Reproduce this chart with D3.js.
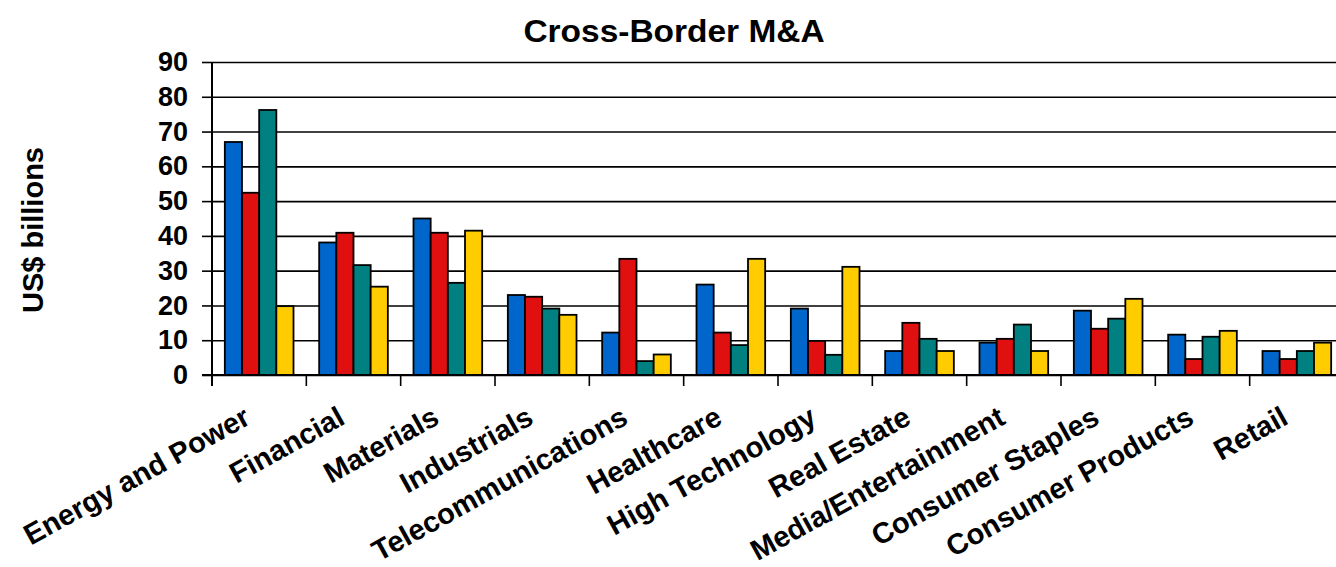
<!DOCTYPE html>
<html>
<head>
<meta charset="utf-8">
<script src="https://cdn.jsdelivr.net/npm/d3@7"></script>
<style>
	body { margin: 0; background: #fff; }
	svg { display: block; font-family: "Liberation Sans", Arial, sans-serif; }
</style>
</head>
<body>
<script>
//chart data
var categories = ["Energy and Power", "Financial", "Materials", "Industrials", "Telecommunications",
	"Healthcare", "High Technology", "Real Estate", "Media/Entertainment", "Consumer Staples",
	"Consumer Products", "Retail"];
var seriesNames = ["Series 1", "Series 2", "Series 3", "Series 4"];
var series1 = [67, 38.1, 45, 23, 12.2, 26, 19.1, 6.9, 9.3, 18.5, 11.6, 6.9];
var series2 = [52.4, 40.9, 40.9, 22.5, 33.4, 12.2, 9.8, 15, 10.4, 13.3, 4.6, 4.6];
var series3 = [76.2, 31.6, 26.5, 19.1, 4.0, 8.6, 5.8, 10.4, 14.5, 16.2, 11, 6.9];
var series4 = [19.8, 25.4, 41.5, 17.3, 5.9, 33.4, 31.1, 6.9, 6.9, 21.9, 12.7, 9.3];
var seriesColors = ["#0066cc", "#e01010", "#008080", "#ffcc00"];
var yTicks = [0, 10, 20, 30, 40, 50, 60, 70, 80, 90];

window.onload = setChart();

function setChart(){
	var width = 1336,
		height = 567;

	//svg container
	var svg = d3.select("body")
		.append("svg")
		.attr("width", width)
		.attr("height", height);

	//plot area runs past the right edge, as in the original
	var left = 212, right = 1344, top = 62, bottom = 375;

	var x0 = d3.scaleBand()
		.domain(categories)
		.range([left, right])
		.padding(0);

	var bw = x0.bandwidth();
	var x1 = d3.scaleBand()
		.domain(seriesNames)
		.range([bw * 0.136, bw * 0.864])
		.padding(0);

	var y = d3.scaleLinear()
		.domain([0, 90])
		.range([bottom, top]);

	var color = d3.scaleOrdinal()
		.domain(seriesNames)
		.range(seriesColors);

	//gridlines
	svg.append("g")
		.attr("class", "grid")
		.attr("transform", "translate(" + left + ",0)")
		.call(d3.axisLeft(y).tickValues(yTicks).tickSize(-(right - left)).tickFormat(""))
		.call(function(g){ g.select(".domain").remove(); })
		.selectAll("line")
		.attr("stroke", "#000")
		.attr("stroke-width", 1.6);

	//bars
	var allSeries = [series1, series2, series3, series4];
	var rows = categories.map(function(c, i){
		return { cat: c, values: seriesNames.map(function(s, j){ return { key: s, value: allSeries[j][i] }; }) };
	});

	var groups = svg.selectAll(".group")
		.data(rows)
		.enter()
		.append("g")
		.attr("class", "group")
		.attr("transform", function(d){ return "translate(" + x0(d.cat) + ",0)"; });

	groups.selectAll("rect")
		.data(function(d){ return d.values; })
		.enter()
		.append("rect")
		.attr("x", function(d){ return x1(d.key); })
		.attr("y", function(d){ return y(d.value); })
		.attr("width", x1.bandwidth())
		.attr("height", function(d){ return y(0) - y(d.value); })
		.attr("fill", function(d){ return color(d.key); })
		.attr("stroke", "#000")
		.attr("stroke-width", 1.8);

	//y axis with labels
	var yAxis = svg.append("g")
		.attr("transform", "translate(" + left + ",0)")
		.call(d3.axisLeft(y).tickValues(yTicks).tickSize(10).tickPadding(14));
	yAxis.select(".domain").remove();
	yAxis.selectAll("line").attr("stroke", "#000").attr("stroke-width", 1.6);
	yAxis.selectAll("text")
		.attr("fill", "#000")
		.style("font-size", "27px")
		.style("font-weight", "bold");

	//axis lines
	svg.append("line")
		.attr("x1", left).attr("x2", left)
		.attr("y1", top).attr("y2", bottom + 11)
		.attr("stroke", "#000").attr("stroke-width", 2);
	svg.append("line")
		.attr("x1", left - 10).attr("x2", right)
		.attr("y1", bottom).attr("y2", bottom)
		.attr("stroke", "#000").attr("stroke-width", 2);

	//category tick marks at the band edges
	svg.selectAll(".xtick")
		.data(categories)
		.enter()
		.append("line")
		.attr("class", "xtick")
		.attr("x1", function(d){ return x0(d); })
		.attr("x2", function(d){ return x0(d); })
		.attr("y1", bottom)
		.attr("y2", bottom + 11)
		.attr("stroke", "#000")
		.attr("stroke-width", 1.6);

	//rotated category labels
	svg.selectAll(".xlabel")
		.data(categories)
		.enter()
		.append("text")
		.attr("class", "xlabel")
		.attr("transform", function(d){
			return "translate(" + (x0(d) + bw / 2 - 7) + "," + (bottom + 48) + ") rotate(-29)";
		})
		.attr("text-anchor", "end")
		.style("font-size", "29px")
		.style("font-weight", "bold")
		.text(function(d){ return d; });

	//y axis title
	svg.append("text")
		.attr("transform", "translate(43,230) rotate(-90)")
		.attr("text-anchor", "middle")
		.style("font-size", "29px")
		.style("font-weight", "bold")
		.text("US$ billions");

	//chart title
	svg.append("text")
		.attr("transform", "translate(674,42) scale(1.08,1)")
		.attr("text-anchor", "middle")
		.style("font-size", "31px")
		.style("font-weight", "bold")
		.text("Cross-Border M&A");
};
</script>
</body>
</html>
